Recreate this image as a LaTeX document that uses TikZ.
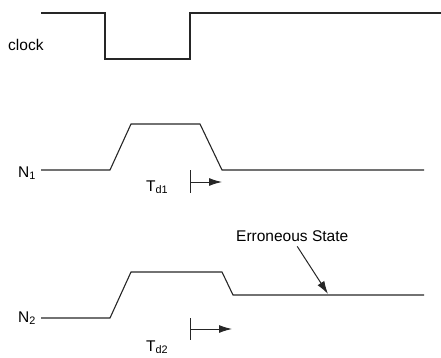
\documentclass[tikz,border=0pt]{standalone}
\usepackage{fontspec}
\setmainfont{Liberation Sans}
\usetikzlibrary{arrows.meta}
\tikzset{wave/.style={line width=1.1pt, color=black!85}}
\tikzset{tickline/.style={line width=0.9pt, color=black!85}}
\tikzset{delay/.style={line width=1pt, color=black!85, -{Latex[length=13pt,width=8pt]}}}
\tikzset{lbl/.style={font=\fontsize{15.5}{18}\selectfont, inner sep=0pt}}

\begin{document}
\begin{tikzpicture}[x=1pt, y=-1pt]%{{{
        \useasboundingbox (0,0) rectangle (441,358);

        \node[lbl, anchor=base west] (clk) at (8, 51) {clock};
        \node[lbl, anchor=base west] (Na) at (18, 177) {N\textsubscript{1}};
        \node[lbl, anchor=base west] (Nb) at (18, 322) {N\textsubscript{2}};
        \node[lbl, anchor=base west] (Tda) at (146, 191) {T\textsubscript{d1}};
        \node[lbl, anchor=base west] (Tdb) at (146, 351) {T\textsubscript{d2}};
        \node[lbl, anchor=base west] (err) at (236, 241) {Erroneous State};

        % waveforms
        \draw [wave] (41, 13) -- (105, 13) -- (105, 59) -- (190, 59) -- (190, 13) -- (441, 13);
        \draw [wave] (41, 170) -- (110, 170) -- (131, 124) -- (200, 124) -- (222, 170) -- (424, 170);
        \draw [wave] (41, 318) -- (110, 318) -- (131, 272) -- (222, 272) -- (233, 295) -- (424, 295);

        % delays
        \coordinate (Ta1) at (190, 170);
        \coordinate (Ta2) at (190, 193);
        \coordinate (Ta3) at (190, 182);
        \coordinate (Ta4) at (222, 182);
        \coordinate (Tb1) at (190, 318);
        \coordinate (Tb2) at (190, 340);
        \coordinate (Tb3) at (190, 329);
        \coordinate (Tb4) at (232, 329);
        \draw [tickline] (Ta1) -- (Ta2);
        \draw [delay] (Ta3) -- (Ta4);
        \draw [tickline] (Tb1) -- (Tb2);
        \draw [delay] (Tb3) -- (Tb4);

        \coordinate (errtip) at (328, 294);
        \draw [delay] ([xshift=5pt, yshift=-5pt]err.south) -- (errtip);
    \end{tikzpicture}
\end{document}
